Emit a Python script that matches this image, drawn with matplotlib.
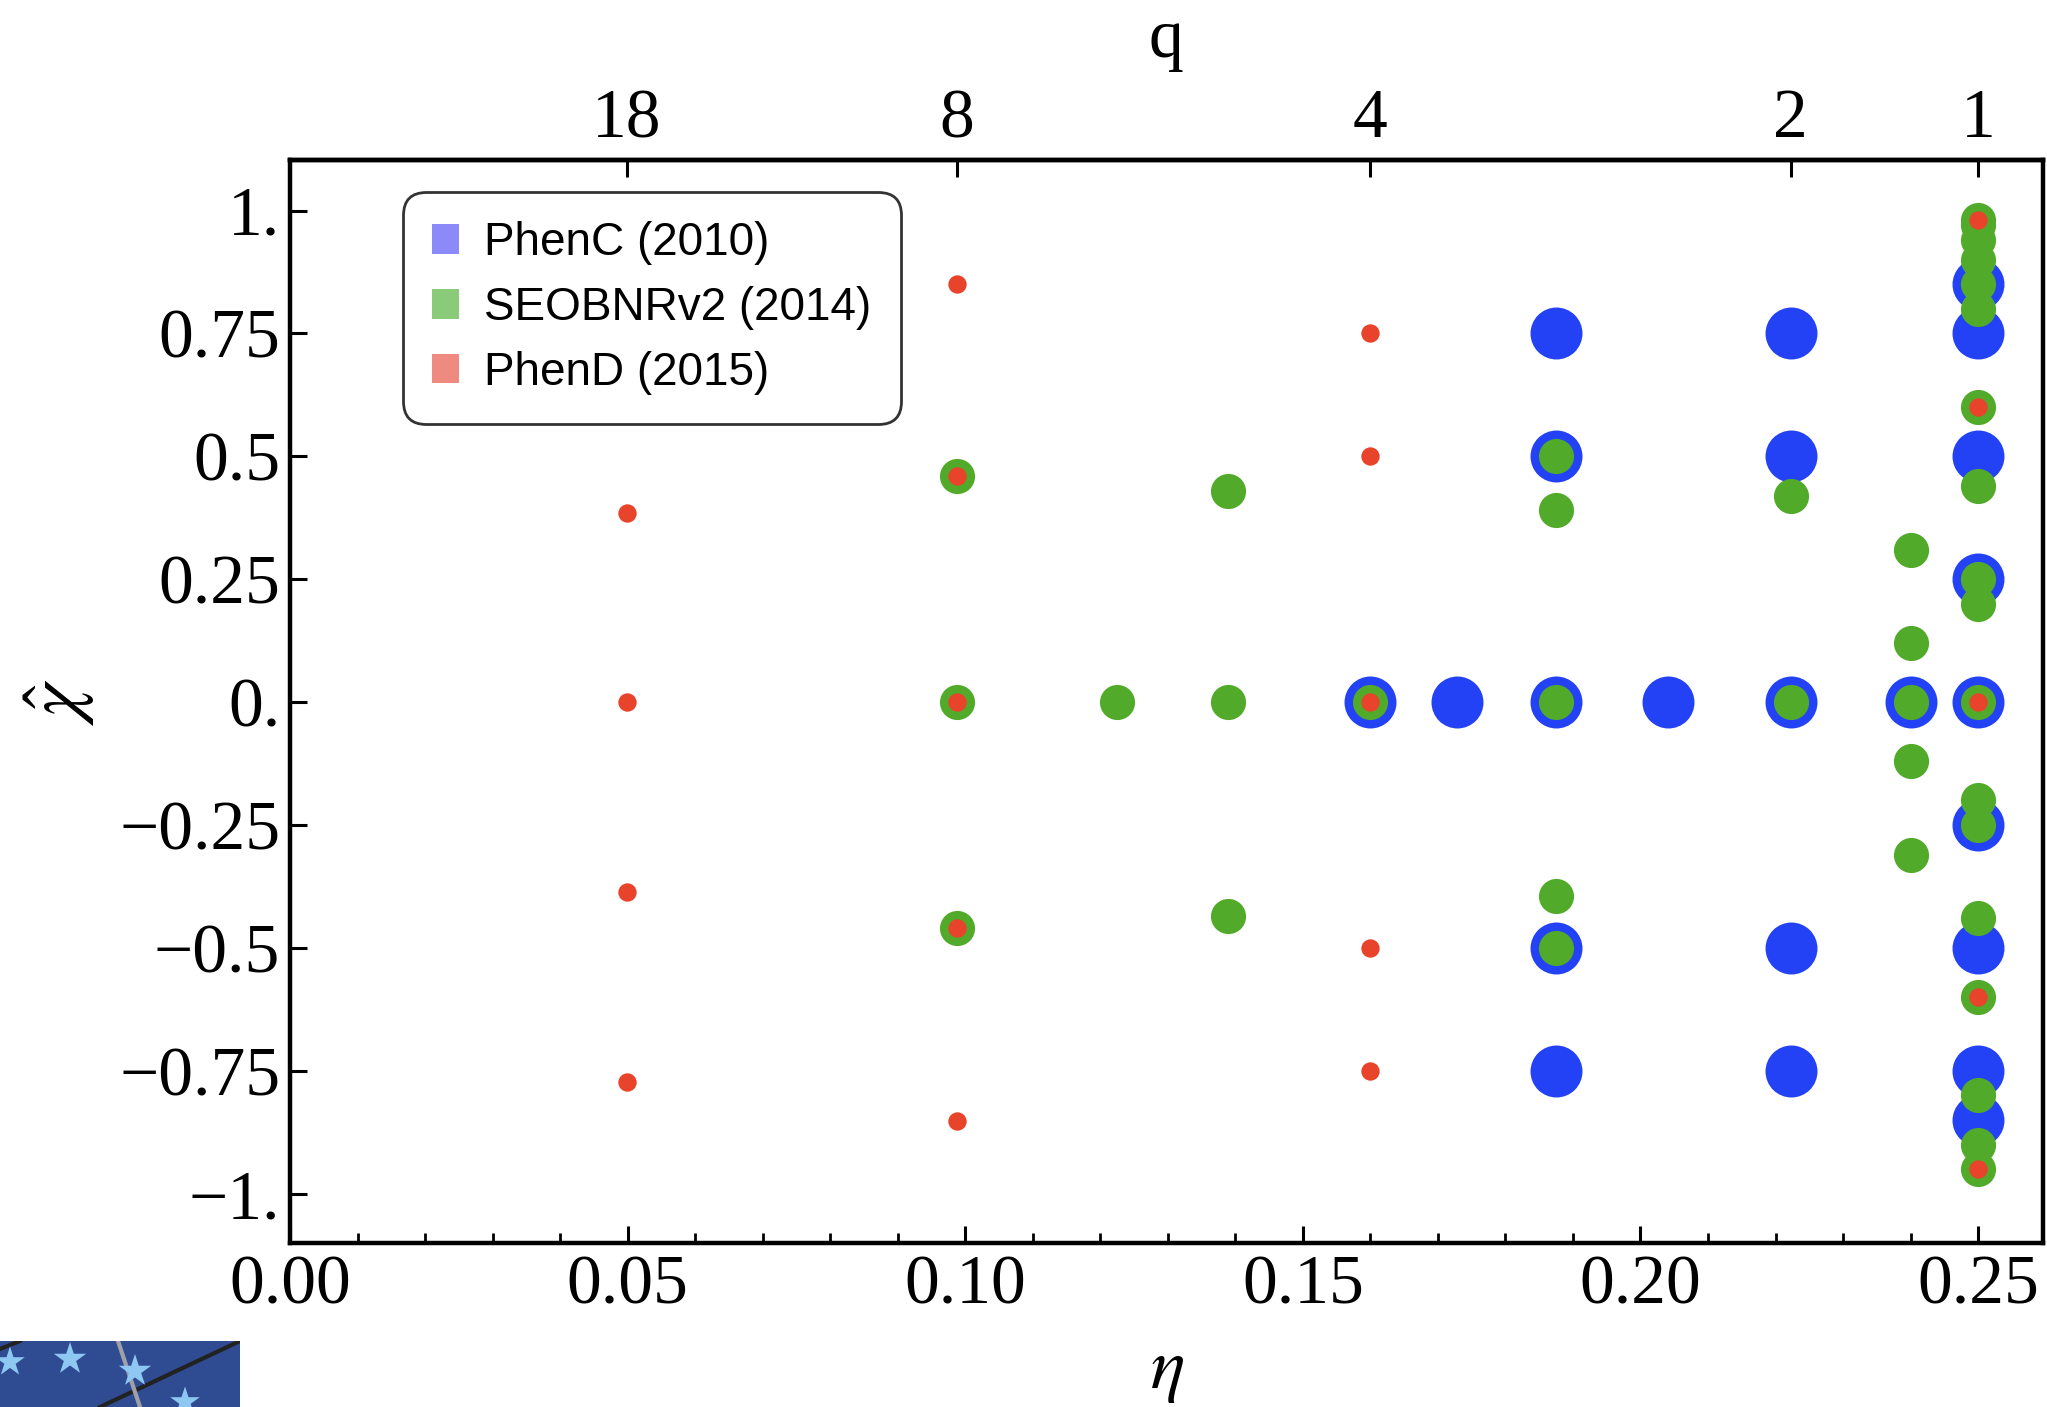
import numpy as np
import matplotlib
matplotlib.use('Agg')
import matplotlib.pyplot as plt
from matplotlib.patches import Patch
from matplotlib.ticker import MultipleLocator, FixedLocator, FixedFormatter

# ---------------- data ----------------
# PhenC (2010)
phenc_q = [3, 3, 3, 3, 3,
           2, 2, 2, 2, 2,
           1, 1, 1, 1, 1, 1, 1, 1, 1,
           4, 3.5, 2.5, 1.5]
phenc_chi = [0.75, 0.5, 0.0, -0.5, -0.75,
             0.75, 0.5, 0.0, -0.5, -0.75,
             0.85, 0.75, 0.5, 0.25, 0.0, -0.25, -0.5, -0.75, -0.85,
             0.0, 0.0, 0.0, 0.0]

# SEOBNRv2 (2014)
seob_q = [8, 8, 8,
          6,
          5, 5, 5,
          4,
          3, 3, 3, 3, 3,
          2, 2,
          1.5, 1.5, 1.5, 1.5, 1.5,
          1, 1, 1, 1, 1, 1, 1, 1, 1, 1, 1, 1, 1, 1, 1, 1, 1, 1]
seob_chi = [0.46, 0.0, -0.46,
            0.0,
            0.43, 0.0, -0.435,
            0.0,
            0.5, 0.39, 0.0, -0.395, -0.5,
            0.42, 0.0,
            0.31, 0.12, 0.0, -0.12, -0.31,
            0.98, 0.97, 0.94, 0.9, 0.85, 0.8, 0.6, 0.44, 0.25, 0.2, 0.0,
            -0.2, -0.25, -0.44, -0.6, -0.8, -0.9, -0.95]

# PhenD (2015)
phend_q = [18, 18, 18, 18,
           8, 8, 8, 8, 8,
           4, 4, 4, 4, 4,
           1, 1, 1, 1, 1]
phend_chi = [0.385, 0.0, -0.387, -0.772,
             0.851, 0.46, 0.0, -0.46, -0.851,
             0.75, 0.5, 0.0, -0.5, -0.75,
             0.98, 0.6, 0.0, -0.6, -0.95]

top_q = [18, 8, 4, 2, 1]
top_q_labels = ['18', '8', '4', '2', '1']
x_ticks = [0.00, 0.05, 0.10, 0.15, 0.20, 0.25]
x_tick_labels = ['0.00', '0.05', '0.10', '0.15', '0.20', '0.25']
y_ticks = [1.0, 0.75, 0.5, 0.25, 0.0, -0.25, -0.5, -0.75, -1.0]
y_tick_labels = ['1.', '0.75', '0.5', '0.25', '0.', '\u22120.25', '\u22120.5', '\u22120.75', '\u22121.']
series_names = ['PhenC (2010)', 'SEOBNRv2 (2014)', 'PhenD (2015)']


def eta_of_q(q):
    q = np.asarray(q, dtype=float)
    return q / (1.0 + q) ** 2


# ---------------- style ----------------
plt.rcParams['mathtext.fontset'] = 'stix'
serif = 'Liberation Serif'
sans = 'Liberation Sans'

c_blue = '#2341F5'
c_green = '#52AA2A'
c_red = '#E8432B'
l_blue = '#8C8AF8'
l_green = '#8ACB7A'
l_red = '#EE8A80'

fig = plt.figure(figsize=(20.47, 14.07), dpi=100)
ax = fig.add_axes([0.1417, 0.1166, 0.998 - 0.1417, 0.886 - 0.1166])

ax.scatter(eta_of_q(phenc_q), phenc_chi, s=1400, color=c_blue, linewidths=0, zorder=3)
ax.scatter(eta_of_q(seob_q), seob_chi, s=640, color=c_green, linewidths=0, zorder=4)
ax.scatter(eta_of_q(phend_q), phend_chi, s=175, color=c_red, linewidths=0, zorder=5)

ax.set_xlim(0.0, 0.2596)
ax.set_ylim(-1.1, 1.102)

for sp in ax.spines.values():
    sp.set_linewidth(3.2)

ax.xaxis.set_major_locator(FixedLocator(x_ticks))
ax.xaxis.set_major_formatter(FixedFormatter(x_tick_labels))
ax.xaxis.set_minor_locator(MultipleLocator(0.01))
ax.yaxis.set_major_locator(FixedLocator(y_ticks))
ax.yaxis.set_major_formatter(FixedFormatter(y_tick_labels))

ax.tick_params(axis='x', which='major', direction='in', length=12, width=2.2,
               labelsize=50, pad=9, top=False)
ax.tick_params(axis='x', which='minor', direction='in', length=7, width=2.0, top=False)
ax.tick_params(axis='y', which='major', direction='in', length=12, width=2.2,
               labelsize=50, pad=7, right=False)
for lab in ax.get_xticklabels() + ax.get_yticklabels():
    lab.set_fontfamily(serif)

sec = ax.secondary_xaxis('top')
sec.set_xticks(eta_of_q(top_q), labels=top_q_labels)
sec.tick_params(direction='in', length=12, width=2.2, labelsize=50, pad=6)
sec.spines['top'].set_linewidth(3.2)
for lab in sec.get_xticklabels():
    lab.set_fontfamily(serif)

# axis labels
fig.text(0.5696, 0.9595, 'q', fontsize=50, family=serif, ha='center', va='baseline')
fig.text(0.570, 0.0135, r'$\eta$', fontsize=52, ha='center', va='baseline')
fig.text(0.029, 0.501, r'$\hat{\chi}$', fontsize=54, ha='center', va='center', rotation=90)

# legend
handles = [Patch(facecolor=l_blue, edgecolor='none'),
           Patch(facecolor=l_green, edgecolor='none'),
           Patch(facecolor=l_red, edgecolor='none')]
leg = ax.legend(handles, series_names, loc='upper left',
                bbox_to_anchor=(403 / 2047, 1 - 192 / 1407), bbox_transform=fig.transFigure,
                prop={'family': sans, 'size': 33}, frameon=True, fancybox=True,
                handlelength=0.58, handleheight=0.62, handletextpad=0.55,
                borderpad=0.64, labelspacing=0.45, borderaxespad=0)
frame = leg.get_frame()
frame.set_edgecolor('black')
frame.set_linewidth(2.0)
frame.set_boxstyle('round,pad=0,rounding_size=0.5')
leg.set_zorder(10)

# decorative logo fragment in bottom-left corner
lax = fig.add_axes([0, 0, 240 / 2047, 66 / 1407])
lax.set_xlim(0, 240)
lax.set_ylim(0, 66)
lax.set_facecolor('#2F4C93')
for sp in lax.spines.values():
    sp.set_visible(False)
lax.set_xticks([])
lax.set_yticks([])
lax.plot([100, 240], [0, 66], color='#222222', lw=3)
lax.plot([0, 20], [58, 66], color='#222222', lw=3)
lax.plot([118, 140], [66, 0], color='#A0A0A8', lw=3)
lax.scatter([10, 70, 135, 185], [45, 48, 36, 5], marker='*', s=[500, 600, 600, 500],
            color='#8EC8F2', linewidths=0, zorder=3)

fig.savefig('out.png', dpi=100)
